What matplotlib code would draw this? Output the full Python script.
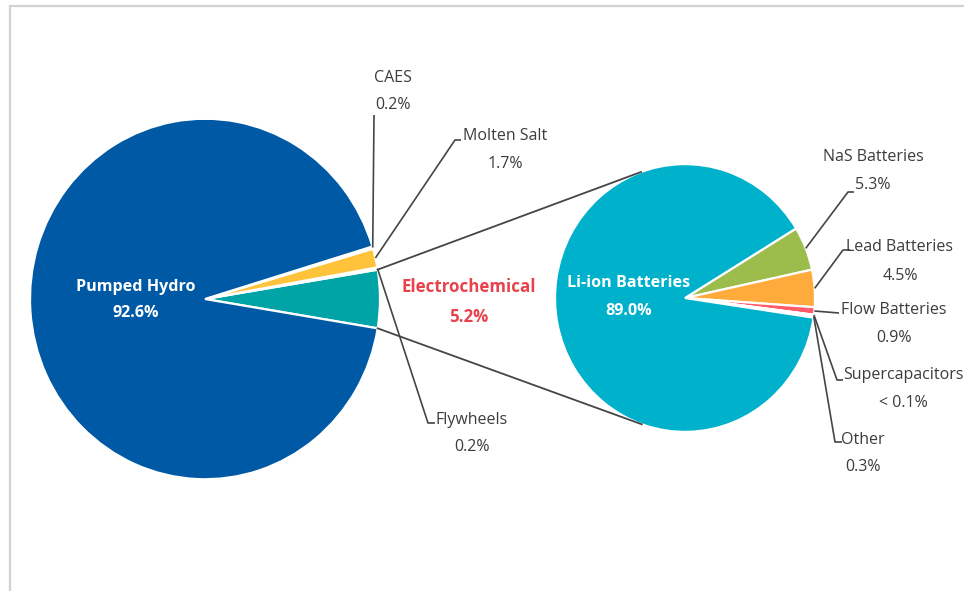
import matplotlib
matplotlib.use('Agg')

import matplotlib.pyplot as plt
import numpy as np

plt.rcParams['font.family'] = ['Open Sans', 'DejaVu Sans']

# main pie: electrochemical slice first so it sits centred at 0 degrees
main_labels = ['Electrochemical', 'Flywheels', 'Molten Salt', 'CAES', 'Pumped Hydro']
main_values = [5.2, 0.2, 1.7, 0.2, 92.6]
main_texts = ['5.2%', '0.2%', '1.7%', '0.2%', '92.6%']
main_colors = ['#00a4a6', '#dfe3ec', '#ffc23b', '#eef0f4', '#0059a5']

# breakdown of electrochemical storage
sub_labels = ['NaS Batteries', 'Lead Batteries', 'Flow Batteries',
              'Supercapacitors', 'Other', 'Li-ion Batteries']
sub_values = [5.3, 4.5, 0.9, 0.05, 0.3, 89.0]
sub_texts = ['5.3%', '4.5%', '0.9%', '< 0.1%', '0.3%', '89.0%']
sub_colors = ['#9cbc4b', '#ffab3c', '#ff5c68', '#f2f2f2', '#d9def0', '#00b1cb']

W, H = 964, 591
sy = 1.03          # source image is slightly stretched vertically


def pt(x, y):
    # image pixel -> data coords
    return x, (H - y) / sy


fig = plt.figure(figsize=(W / 100, H / 100), dpi=100)
ax = fig.add_axes([0, 0, 1, 1])

c1, r1 = pt(205, 299), 175
c2, r2 = pt(685, 298), 130

start1 = -main_values[0] / sum(main_values) * 180
w1, _ = ax.pie(main_values, colors=main_colors, startangle=start1, center=c1, radius=r1,
               wedgeprops=dict(edgecolor='white', linewidth=1.6))
w2, _ = ax.pie(sub_values, colors=sub_colors, startangle=31.3, counterclock=False,
               center=c2, radius=r2, wedgeprops=dict(edgecolor='white', linewidth=1.6))

ax.set_xlim(0, W)
ax.set_ylim(0, H / sy)
ax.set_aspect('auto')
ax.axis('off')

line_col = '#454545'
txt_col = '#3c3c3c'


def edge_point(center, r, ang):
    a = np.radians(ang)
    return center[0] + r * np.cos(a), center[1] + r * np.sin(a)


def tangent_point(p, center, r, side):
    dx, dy = p[0] - center[0], p[1] - center[1]
    d = np.hypot(dx, dy)
    base = np.degrees(np.arctan2(dy, dx))
    off = np.degrees(np.arccos(r / d))
    return edge_point(center, r, base + side * off)


# connector lines from electrochemical wedge to the second pie
ec = w1[0]
p_top = edge_point(c1, r1, ec.theta2)
p_bot = edge_point(c1, r1, ec.theta1)
q_top = tangent_point(p_top, c2, r2, -1)
q_bot = tangent_point(p_bot, c2, r2, 1)
ax.plot([p_top[0], q_top[0]], [p_top[1], q_top[1]], color=line_col, lw=1.3)
ax.plot([p_bot[0], q_bot[0]], [p_bot[1], q_bot[1]], color=line_col, lw=1.3)

# label layout (image px): text centre x, name y, value y, elbow, tail end x
main_layout = {
    'CAES': (393, 78, 105, (374, 115), None),
    'Molten Salt': (505, 136, 164, (455, 140), 461),
    'Flywheels': (472, 420, 447, (428, 423), 435),
}
sub_layout = {
    'NaS Batteries': (873, 157, 185, (848, 192), 854),
    'Lead Batteries': (900, 247, 276, (843, 250), 850),
    'Flow Batteries': (894, 310, 338, (839, 313), None),
    'Supercapacitors': (903, 375, 403, (837, 380), 843),
    'Other': (863, 440, 467, (835, 442), 842),
}


def leader(wedge, center, r, layout, name, value):
    tx, ny, vy, elbow, tail = layout
    mid = (wedge.theta1 + wedge.theta2) / 2
    s = edge_point(center, r, mid)
    e = pt(*elbow)
    xs, ys = [s[0], e[0]], [s[1], e[1]]
    if tail is not None:
        xs.append(tail)
        ys.append(e[1])
    ax.plot(xs, ys, color=line_col, lw=1.2, solid_capstyle='butt')
    ax.text(*pt(tx, ny), name, ha='center', va='center', fontsize=11.5, color=txt_col)
    ax.text(*pt(tx, vy), value, ha='center', va='center', fontsize=11.5, color=txt_col)


for w, lab, txt in zip(w1, main_labels, main_texts):
    if lab in main_layout:
        leader(w, c1, r1, main_layout[lab], lab, txt)
for w, lab, txt in zip(w2, sub_labels, sub_texts):
    if lab in sub_layout:
        leader(w, c2, r2, sub_layout[lab], lab, txt)

# inside / centre labels
ax.text(*pt(136, 287), main_labels[4], ha='center', va='center', fontsize=11.6,
        fontweight='bold', color='white')
ax.text(*pt(136, 313), main_texts[4], ha='center', va='center', fontsize=11.6,
        fontweight='bold', color='white')
ax.text(*pt(629, 283), sub_labels[5], ha='center', va='center', fontsize=11.6,
        fontweight='bold', color='white')
ax.text(*pt(629, 311), sub_texts[5], ha='center', va='center', fontsize=11.6,
        fontweight='bold', color='white')
ax.text(*pt(469, 287), main_labels[0], ha='center', va='center', fontsize=12.2,
        fontweight='bold', color='#e8434d')
ax.text(*pt(469, 317), main_texts[0], ha='center', va='center', fontsize=12.2,
        fontweight='bold', color='#e8434d')

# light frame at top and left, as in the source screenshot
ax.plot([10, W], [(H - 6) / sy] * 2, color='#d2d2d2', lw=1.6, clip_on=False)
ax.plot([10, 10], [(H - 6) / sy, 0], color='#d2d2d2', lw=1.6, clip_on=False)

fig.savefig('out.png', dpi=100)
